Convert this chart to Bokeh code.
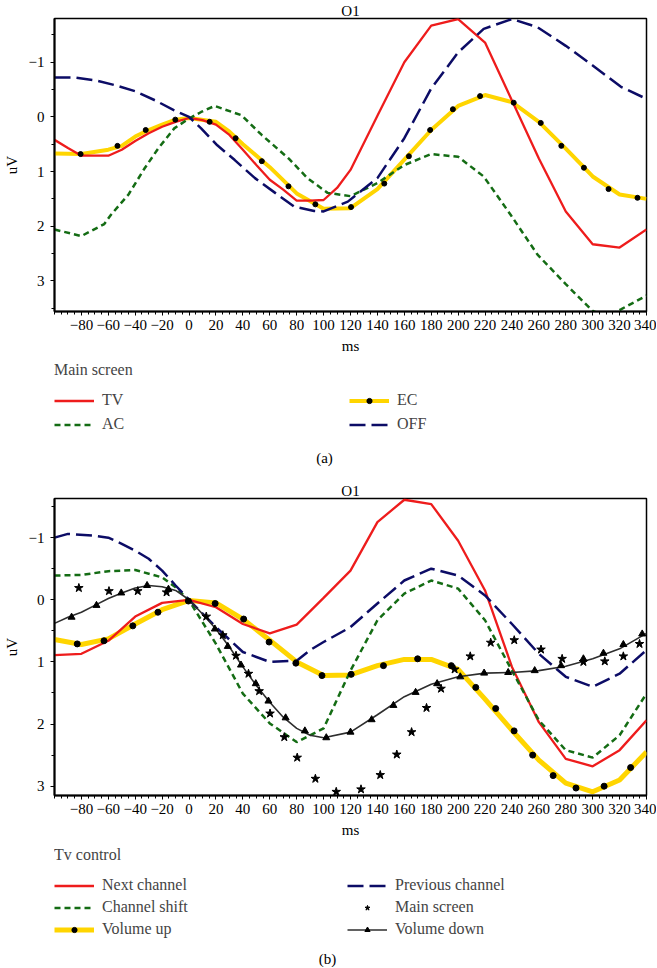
from bokeh.plotting import figure
from bokeh.models import Range1d, FixedTicker, Legend, LegendItem, Label
from bokeh.layouts import column
from bokeh.embed import file_html
from bokeh.resources import INLINE

FONT = "Liberation Serif"

# ---------------- ticks ----------------
x_ticks = list(range(-80, 341, 20))
x_minor = list(range(-100, 341, 5))
y_ticks = [-1, 0, 1, 2, 3]
y_minor = [-1.5, -0.5, 0.5, 1.5, 2.5, 3.5]

# ---------------- panel (a): Main screen ----------------
tv_ms = [-100, -90, -80, -70, -60, -50, -40, -30, -20, -10, 0, 10, 20, 30, 40, 50, 60, 70, 80, 90, 100, 110, 120, 140, 160, 180, 200, 220, 240, 260, 280, 300, 320, 340]
tv_uv = [0.42, 0.57, 0.71, 0.71, 0.71, 0.60, 0.44, 0.30, 0.18, 0.09, 0.02, 0.06, 0.14, 0.33, 0.60, 0.88, 1.15, 1.33, 1.53, 1.53, 1.52, 1.30, 0.97, -0.02, -1.00, -1.67, -1.79, -1.36, -0.30, 0.76, 1.73, 2.33, 2.39, 2.06]

ec_ms = [-100, -80, -60, -50, -40, -30, -20, -10, 0, 20, 30, 40, 60, 80, 100, 120, 140, 160, 180, 200, 220, 240, 260, 280, 300, 320, 340]
ec_uv = [0.67, 0.68, 0.60, 0.53, 0.36, 0.24, 0.14, 0.05, 0.02, 0.09, 0.27, 0.50, 0.92, 1.40, 1.68, 1.67, 1.32, 0.78, 0.24, -0.20, -0.40, -0.27, 0.09, 0.58, 1.09, 1.42, 1.50]
ec_mark_ms = [-80.6, -53.2, -32.2, -10.2, 15.3, 34.6, 54.1, 73.9, 93.9, 120.4, 145.1, 163.4, 179.2, 196.1, 216.3, 241.3, 261.4, 276.7, 293.5, 311.8, 333.3]
ec_mark_uv = [0.68, 0.53, 0.24, 0.05, 0.09, 0.39, 0.81, 1.27, 1.60, 1.65, 1.22, 0.72, 0.24, -0.14, -0.38, -0.26, 0.11, 0.53, 0.93, 1.32, 1.48]

ac_ms = [-100, -80, -63, -58, -45, -33, -23, -11, 0, 9, 19, 39, 54, 74, 88, 103, 120, 140, 160, 180, 200, 219, 239, 259, 280, 300, 310, 321, 340]
ac_uv = [2.06, 2.18, 1.96, 1.79, 1.42, 0.94, 0.58, 0.21, 0.03, -0.09, -0.20, -0.03, 0.33, 0.76, 1.12, 1.39, 1.45, 1.21, 0.88, 0.68, 0.73, 1.09, 1.79, 2.52, 3.06, 3.55, 3.65, 3.52, 3.27]

off_ms = [-100, -85, -70, -55, -40, -25, -11, 0, 9, 21, 34, 49, 64, 78, 93, 100, 118, 140, 160, 180, 200, 219, 240, 259, 280, 300, 321, 340]
off_uv = [-0.72, -0.72, -0.67, -0.58, -0.47, -0.30, -0.12, 0.0, 0.21, 0.52, 0.79, 1.12, 1.39, 1.64, 1.72, 1.73, 1.55, 1.12, 0.39, -0.52, -1.18, -1.61, -1.79, -1.64, -1.30, -0.94, -0.55, -0.33]

# ---------------- panel (b): Tv control ----------------
next_ms = [-100, -80, -60, -40, -20, 0, 20, 40, 60, 80, 100, 120, 140, 160, 180, 200, 220, 240, 260, 280, 300, 320, 340]
next_uv = [0.89, 0.87, 0.66, 0.27, 0.05, 0.0, 0.12, 0.39, 0.54, 0.40, -0.03, -0.47, -1.25, -1.61, -1.54, -0.95, -0.15, 1.08, 1.97, 2.56, 2.68, 2.42, 1.94]

prev_ms = [-100, -90, -70, -60, -50, -40, -30, -20, -10, 0, 20, 40, 60, 80, 90, 100, 120, 140, 160, 180, 200, 220, 240, 260, 280, 300, 320, 340]
prev_uv = [-1.0, -1.06, -1.03, -1.0, -0.9, -0.79, -0.66, -0.47, -0.23, 0.0, 0.44, 0.84, 1.0, 0.98, 0.81, 0.68, 0.44, 0.06, -0.31, -0.50, -0.39, -0.07, 0.39, 0.87, 1.24, 1.40, 1.19, 0.81]

shift_ms = [-100, -80, -60, -40, -20, -10, 0, 20, 40, 60, 80, 100, 120, 140, 160, 180, 200, 220, 240, 260, 280, 300, 320, 340]
shift_uv = [-0.39, -0.40, -0.46, -0.48, -0.36, -0.20, 0.01, 0.71, 1.51, 1.99, 2.29, 2.07, 1.14, 0.33, -0.10, -0.31, -0.18, 0.33, 1.14, 1.94, 2.42, 2.54, 2.18, 1.51]

volup_ms = [-100, -80, -60, -40, -20, 0, 20, 40, 60, 80, 100, 120, 140, 160, 180, 200, 220, 240, 260, 280, 300, 320, 340]
volup_uv = [0.64, 0.72, 0.63, 0.39, 0.16, 0.01, 0.05, 0.31, 0.65, 1.0, 1.22, 1.21, 1.06, 0.96, 0.96, 1.12, 1.60, 2.10, 2.58, 2.95, 3.09, 2.90, 2.45]
volup_mark_ms = [-83.1, -63.2, -41.8, -23.1, -0.5, 19.4, 40.6, 59.5, 79.4, 98.8, 120.5, 144.5, 169.9, 194.9, 213.1, 227.9, 241.6, 255.4, 270.6, 287.6, 308.5, 328.2]
volup_mark_uv = [0.71, 0.66, 0.42, 0.20, 0.02, 0.06, 0.31, 0.68, 1.02, 1.22, 1.20, 1.06, 0.95, 1.06, 1.41, 1.75, 2.11, 2.50, 2.83, 3.03, 3.00, 2.70]

voldown_ms = [-100, -90, -80, -70, -60, -50, -40, -30, -20, -10, 0, 10, 20, 30, 40, 50, 60, 70, 80, 90, 100, 120, 140, 160, 180, 200, 220, 240, 260, 280, 300, 320, 340]
voldown_uv = [0.38, 0.28, 0.20, 0.09, -0.02, -0.11, -0.19, -0.23, -0.21, -0.15, 0.0, 0.23, 0.47, 0.76, 1.08, 1.38, 1.65, 1.89, 2.07, 2.18, 2.22, 2.13, 1.85, 1.56, 1.36, 1.24, 1.18, 1.17, 1.14, 1.07, 0.95, 0.79, 0.54]
voldown_mark_ms = [-87.3, -68.8, -50.4, -31.2, -15.3, 19.2, 28.8, 38.6, 49.6, 59.0, 71.8, 86.1, 102.0, 120.0, 135.7, 151.9, 168.4, 184.4, 201.6, 219.3, 237.2, 256.9, 276.5, 293.1, 308.0, 322.8, 336.8]
voldown_mark_uv = [0.28, 0.09, -0.11, -0.23, -0.17, 0.47, 0.75, 1.05, 1.35, 1.63, 1.90, 2.11, 2.22, 2.13, 1.93, 1.70, 1.49, 1.35, 1.24, 1.18, 1.17, 1.14, 1.06, 0.95, 0.86, 0.72, 0.55]

main_ms = [-81.9, -59.5, -38.1, -16.7, 12.8, 25.1, 34.9, 44.2, 52.1, 60.2, 70.8, 80.4, 93.9, 109.4, 127.8, 142.1, 154.4, 165.4, 176.5, 187.3, 197.4, 209.0, 224.2, 241.7, 261.6, 277.3, 293.1, 309.0, 322.8, 334.8]
main_uv = [-0.19, -0.14, -0.14, -0.12, 0.27, 0.57, 0.90, 1.19, 1.47, 1.83, 2.21, 2.54, 2.88, 3.09, 3.05, 2.82, 2.49, 2.13, 1.74, 1.43, 1.12, 0.91, 0.69, 0.65, 0.80, 0.95, 1.00, 0.99, 0.91, 0.71]

# ---------------- styles ----------------
RED = "#ee1c1c"
YEL = "#ffd500"
GRN = "#146c14"
NAVY = "#0c0c66"
DARK = "#2e2e2e"
W = 656

STY = {
    "TV": dict(line_color=RED, line_width=2.3),
    "AC": dict(line_color=GRN, line_width=2.5, line_dash="6 4"),
    "EC": dict(line_color=YEL, line_width=4),
    "OFF": dict(line_color=NAVY, line_width=2.5, line_dash="16 6"),
    "VU": dict(line_color=YEL, line_width=5),
    "VD": dict(line_color=DARK, line_width=1.6),
}


def minus(v):
    return ("\u2212" + str(abs(v))) if v < 0 else str(v)


def make_fig(height, y_bottom, y_top, mb_top, mb_bottom, mb_left):
    p = figure(width=W, height=height, output_backend="svg", toolbar_location=None,
               x_range=Range1d(-100, 340), y_range=Range1d(y_bottom, y_top),
               min_border_top=mb_top, min_border_bottom=mb_bottom,
               min_border_left=mb_left, min_border_right=W - 646)
    p.title.text = "O1"
    p.title.align = "center"
    p.title.text_font = FONT
    p.title.text_font_size = "15px"
    p.title.text_font_style = "normal"
    p.title.text_color = "black"
    p.title.standoff = 0
    p.xgrid.visible = False
    p.ygrid.visible = False
    p.outline_line_color = "black"
    p.outline_line_width = 1.5
    p.outline_line_alpha = 1
    p.background_fill_color = "white"
    p.border_fill_color = "white"

    xa = p.xaxis[0]
    xa.ticker = FixedTicker(ticks=x_ticks, minor_ticks=x_minor)
    xa.major_label_overrides = {v: minus(v) for v in x_ticks}
    xa.axis_label = "ms"
    ya = p.yaxis[0]
    ya.ticker = FixedTicker(ticks=y_ticks, minor_ticks=y_minor)
    ya.major_label_overrides = {v: minus(v) for v in y_ticks}
    ya.axis_label = "uV"
    for ax in (xa, ya):
        ax.axis_line_width = 2
        ax.axis_line_color = "black"
        ax.major_tick_out = 4
        ax.major_tick_in = 0
        ax.minor_tick_out = 3
        ax.minor_tick_in = 0
        ax.major_tick_line_color = "black"
        ax.minor_tick_line_color = "black"
        ax.major_label_text_font = FONT
        ax.major_label_text_font_size = "15px"
        ax.major_label_text_color = "black"
        ax.axis_label_text_font = FONT
        ax.axis_label_text_font_size = "15px"
        ax.axis_label_text_font_style = "normal"
        ax.axis_label_text_color = "black"
    xa.major_label_standoff = 4
    xa.axis_label_standoff = 5
    ya.major_label_standoff = 6
    ya.axis_label_standoff = 6
    return p


def legend_fig(height, top_gap):
    # a strip under each panel that only carries the legend keys and the caption;
    # its ranges are far from the data so the key renderers draw nothing in it
    q = figure(width=W, height=height, output_backend="svg", toolbar_location=None,
               x_range=Range1d(1000, 1001), y_range=Range1d(1000, 1001),
               x_axis_location=None, y_axis_location=None,
               min_border_left=45, min_border_right=0,
               min_border_top=top_gap, min_border_bottom=0)
    q.xgrid.visible = False
    q.ygrid.visible = False
    q.outline_line_color = None
    q.background_fill_color = "white"
    q.border_fill_color = "white"
    return q


def key(q, key_name, xs, ys, mx=None, my=None, marker=None, msize=6):
    rs = [q.line(xs, ys, **STY[key_name])]
    if marker:
        rs.append(q.scatter(mx, my, marker=marker, size=msize, color="black"))
    return rs


def add_legend(q, items, title, row_gap):
    leg = Legend(items=items, ncols=2, title=title, location="top_left", margin=0,
                 padding=0, spacing=row_gap, glyph_width=40, glyph_height=13,
                 label_standoff=8, label_width=241,
                 label_text_font=FONT, label_text_font_size="16px",
                 title_text_font=FONT, title_text_font_size="16px",
                 title_text_font_style="normal", title_standoff=12,
                 border_line_alpha=0, background_fill_alpha=0)
    q.add_layout(leg)


def add_caption(q, text, x, y):
    q.add_layout(Label(text=text, x=x, y=y, x_units="screen", y_units="screen",
                       text_align="center", text_baseline="middle",
                       text_font=FONT, text_font_size="15px", text_color="black"))


# ---------------- figure (a) ----------------
pa = make_fig(359, 3.56, -1.8, 16, 48, 51)
pa.line(ec_ms, ec_uv, **STY["EC"])
pa.line(tv_ms, tv_uv, **STY["TV"])
pa.line(ac_ms, ac_uv, **STY["AC"])
pa.line(off_ms, off_uv, **STY["OFF"])
pa.scatter(ec_mark_ms, ec_mark_uv, marker="circle", size=5, color="black")

la = legend_fig(112, 2)
add_legend(la, [
    LegendItem(label="TV", renderers=key(la, "TV", tv_ms, tv_uv)),
    LegendItem(label="AC", renderers=key(la, "AC", ac_ms, ac_uv)),
    LegendItem(label="EC", renderers=key(la, "EC", ec_ms, ec_uv, ec_mark_ms, ec_mark_uv, "circle", 5)),
    LegendItem(label="OFF", renderers=key(la, "OFF", off_ms, off_uv)),
], "Main screen", 6)
add_caption(la, "(a)", 270, 14)

# ---------------- figure (b) ----------------
pb = make_fig(372, 3.15, -1.63, 27, 48, 49)
pb.line(volup_ms, volup_uv, **STY["VU"])
pb.line(next_ms, next_uv, **STY["TV"])
pb.line(shift_ms, shift_uv, **STY["AC"])
pb.line(prev_ms, prev_uv, **STY["OFF"])
pb.line(voldown_ms, voldown_uv, **STY["VD"])
pb.scatter(volup_mark_ms, volup_mark_uv, marker="circle", size=6, color="black")
pb.scatter(voldown_mark_ms, voldown_mark_uv, marker="triangle", size=7, color="black")
pb.scatter(main_ms, main_uv, marker="star", size=9, color="black")

lb = legend_fig(124, 3)
add_legend(lb, [
    LegendItem(label="Next channel", renderers=key(lb, "TV", next_ms, next_uv)),
    LegendItem(label="Channel shift", renderers=key(lb, "AC", shift_ms, shift_uv)),
    LegendItem(label="Volume up", renderers=key(lb, "VU", volup_ms, volup_uv, volup_mark_ms, volup_mark_uv, "circle", 6)),
    LegendItem(label="Previous channel", renderers=key(lb, "OFF", prev_ms, prev_uv)),
    LegendItem(label="Main screen", renderers=[lb.scatter(main_ms, main_uv, marker="star", size=9, color="black")]),
    LegendItem(label="Volume down", renderers=key(lb, "VD", voldown_ms, voldown_uv, voldown_mark_ms, voldown_mark_uv, "triangle", 7)),
], "Tv control", 4)
add_caption(lb, "(b)", 273, 9)

layout = column(pa, la, pb, lb, spacing=0)
open("out.html", "w").write(file_html(layout, INLINE))
